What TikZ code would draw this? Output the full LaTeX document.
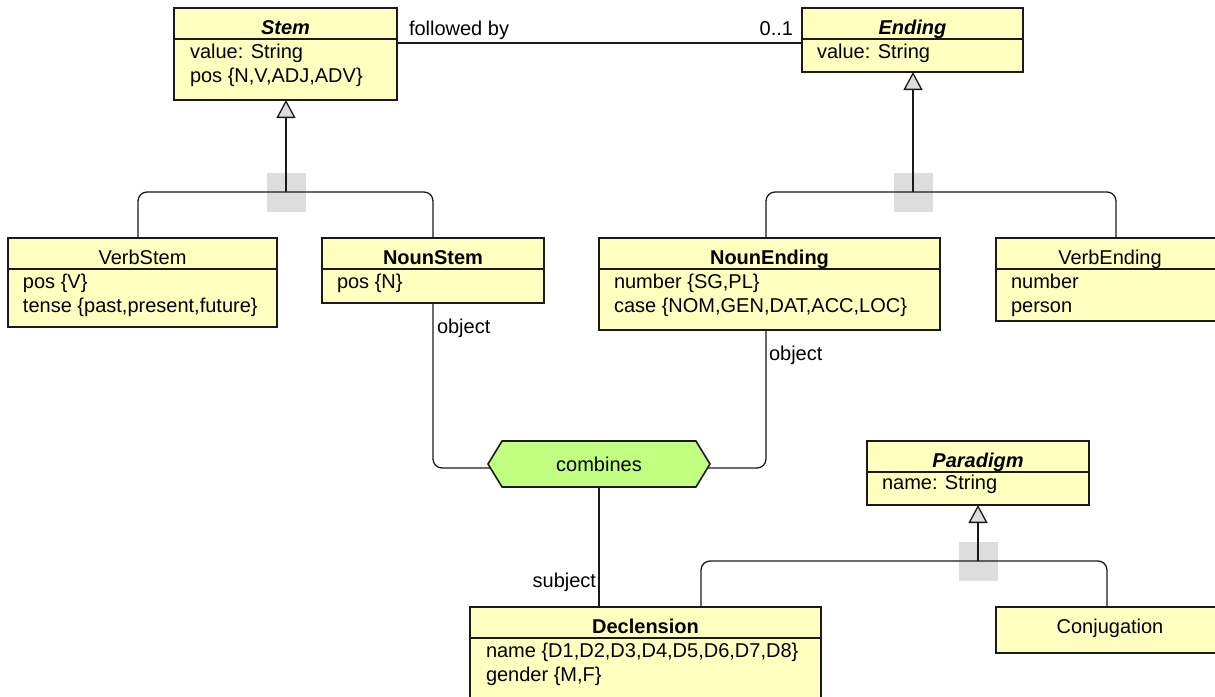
\documentclass[tikz,border=0pt]{standalone}
\usepackage{fontspec}
\setmainfont{Liberation Sans}
\usetikzlibrary{arrows.meta,shapes.symbols,calc}
\definecolor{clsfill}{HTML}{FFFFC0}
\definecolor{hexfill}{HTML}{C0FF80}
\definecolor{sqgray}{HTML}{DDDDDD}
\definecolor{linecol}{HTML}{1A1A1A}
\tikzset{
  txt/.style={inner sep=0pt, outer sep=0pt, font=\fontsize{20}{24}\selectfont, text=black},
  clsbox/.style={draw=linecol, fill=clsfill, line width=1.6pt, inner sep=0pt, outer sep=0pt},
  sepline/.style={draw=linecol, line width=1.3pt},
  conn/.style={draw=linecol, line width=1.3pt},
  inh/.style={conn, -{Triangle[width=19pt,length=18pt,fill=sqgray,line width=1.3pt]}},
  sq/.style={fill=sqgray, draw=none, minimum size=39pt, inner sep=0pt},
  hexa/.style={shape=signal, signal to=east and west, signal pointer angle=117,
    draw=linecol, fill=hexfill, line width=1.6pt, minimum width=222pt, minimum height=46pt,
    inner sep=0pt, outer sep=0pt, font=\fontsize{20}{24}\selectfont}
}
\newcommand\UmlFrame[6]{%
  \node[clsbox, anchor=north west, minimum width=#4pt-#2pt, minimum height=#5pt-#3pt] (#1) at (#2,#3) {};
  \node[txt, anchor=base] (#1-title) at ({(#2+#4)/2},#3+26) {#6};
}
\newcommand\UmlBox[7]{%
  \UmlFrame{#1}{#2}{#3}{#4}{#5}{#7}%
  \draw[sepline] (#2,#3+#6) -- (#4,#3+#6);
}
\newcommand\UmlAttr[4]{\node[txt, anchor=base west] (#1) at (#2,#3) {#4};}
\begin{document}
\begin{tikzpicture}[x=1pt,y=-1pt]
\useasboundingbox (0,0) rectangle (1215,696);
% junction markers
\coordinate (j1) at (286,192);
\coordinate (j2) at (913,192);
\coordinate (j3) at (978,561);
\node[sq] (sq1) at (j1) {};
\node[sq] (sq2) at (j2) {};
\node[sq] (sq3) at (j3) {};
% classes
\UmlBox{stem}{174}{8}{397}{100}{31}{\textbf{\textit{Stem}}}
\UmlAttr{stem-a1}{190}{58}{value: String}
\UmlAttr{stem-a2}{190}{82}{pos \{N,V,ADJ,ADV\}}

\UmlBox{ending}{802}{8}{1023}{72}{31}{\textbf{\textit{Ending}}}
\UmlAttr{ending-a1}{817}{58}{value: String}

\UmlBox{vstem}{8}{238}{277}{327}{31}{VerbStem}
\UmlAttr{vstem-a1}{23}{288}{pos \{V\}}
\UmlAttr{vstem-a2}{23}{312}{tense \{past,present,future\}}

\UmlBox{nstem}{322}{238}{544}{303}{31}{\textbf{NounStem}}
\UmlAttr{nstem-a1}{337}{288}{pos \{N\}}

\UmlBox{nend}{599}{238}{940}{330}{31}{\textbf{NounEnding}}
\UmlAttr{nend-a1}{614}{288}{number \{SG,PL\}}
\UmlAttr{nend-a2}{614}{312}{case \{NOM,GEN,DAT,ACC,LOC\}}

\UmlBox{vend}{996}{238}{1224}{321}{31}{VerbEnding}
\UmlAttr{vend-a1}{1011}{288}{number}
\UmlAttr{vend-a2}{1011}{312}{person}

\UmlBox{para}{867}{441}{1089}{505}{31}{\textbf{\textit{Paradigm}}}
\UmlAttr{para-a1}{882}{489}{name: String}

\UmlBox{decl}{470}{607}{821}{702}{31}{\textbf{Declension}}
\UmlAttr{decl-a1}{486}{657}{name \{D1,D2,D3,D4,D5,D6,D7,D8\}}
\UmlAttr{decl-a2}{486}{681}{gender \{M,F\}}

\UmlFrame{conj}{996}{607}{1224}{653}{Conjugation}

% association node
\node[hexa] (hex) at (599,464) {combines};

% association: followed by
\draw[conn] ($(stem.north east)+(0,35)$) -- ($(ending.north west)+(0,35)$);
\node[txt, anchor=base west] (lfollow) at (409,35) {followed by};
\node[txt, anchor=base east] (lmult) at (793,35) {0..1};

% generalisations
\draw[conn, rounded corners=9pt] ([xshift=-4.5pt]vstem.north) |- (j1) -| (nstem.north);
\draw[inh] (j1) -- (j1 |- stem.south);
\draw[conn, rounded corners=9pt] ([xshift=-3.5pt]nend.north) |- (j2) -| ([xshift=6pt]vend.north);
\draw[inh] (j2) -- (j2 |- ending.south);
\draw[conn, rounded corners=9pt] ([xshift=55.5pt]decl.north) |- (j3) -| ([xshift=-3pt]conj.north);
\draw[inh] (j3) -- (j3 |- para.south);

% combines connectors
\draw[conn, rounded corners=9pt] (nstem.south) |- ([xshift=2.4pt,yshift=-4pt]hex.west);
\draw[conn, rounded corners=9pt] ([xshift=-3.5pt]nend.south) |- ([xshift=-2.4pt,yshift=-4pt]hex.east);
\draw[conn] (hex.south) -- (hex.south |- decl.north);
\node[txt, anchor=base west] (lobj1) at (437,333) {object};
\node[txt, anchor=base west] (lobj2) at (769,360) {object};
\node[txt, anchor=base east] (lsubj) at (596,587) {subject};
\end{tikzpicture}
\end{document}
